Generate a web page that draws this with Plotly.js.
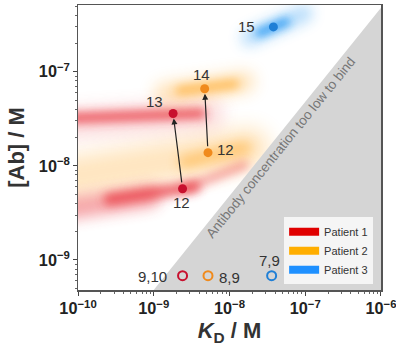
<!DOCTYPE html>
<html><head><meta charset="utf-8">
<script src="https://cdn.plot.ly/plotly-3.0.1.min.js"></script>
<style>html,body{margin:0;padding:0;background:#fff;}#chart{width:396px;height:346px;}</style>
</head><body><div id="chart"></div>
<script>
// ---------- data ----------
const filledKD = [3.8e-8, 4.7e-9, 5.2e-9, 1.8e-9, 2.4e-9];
const filledAb = [3.0e-7, 6.6e-8, 1.38e-8, 3.6e-8, 5.7e-9];
const filledLabels = ['15', '14', '12', '13', '12'];
const filledPatient = [3, 2, 2, 1, 1];

const openKD = [2.4e-9, 5.2e-9, 3.6e-8];
const openAb = [6.8e-10, 6.8e-10, 6.8e-10];
const openLabels = ['9,10', '8,9', '7,9'];
const openPatient = [1, 2, 3];

// arrows: [from index, to index] in filled points
const arrowPairs = [[4, 3], [2, 1]];

const patients = ['Patient 1', 'Patient 2', 'Patient 3'];

// "too low to bind" boundary region
const boundKD = [1e-10, 1e-5, 1e-5];
const boundAb = [4.8e-11, 4.8e-6, 4.8e-11];
const boundText = 'Antibody concentration too low to bind';

// density clouds (KD start, KD end, Ab start, Ab end)
const cloudKD0 = [5.8e-11, 2.57e-9, 5.8e-11, 2.6e-10, 2.6e-9, 5.8e-11, 5.8e-11, 1.38e-9, 2.2e-9, 1.82e-8, 2.5e-8];
const cloudKD1 = [1.82e-8, 1.58e-8, 8.9e-10, 3.46e-9, 1.58e-8, 5.5e-9, 4.2e-9, 1.58e-8, 1.17e-8, 9.8e-8, 5.6e-8];
const cloudAb0 = [7.4e-9, 1.1e-8, 3.4e-9, 4.4e-9, 5.75e-9, 2.8e-8, 3.2e-8, 5.9e-8, 6.3e-8, 2.3e-7, 2.6e-7];
const cloudAb1 = [1.55e-8, 1.55e-8, 4.7e-9, 6.0e-9, 1.02e-8, 3.55e-8, 3.6e-8, 7.8e-8, 7.4e-8, 4.2e-7, 3.4e-7];
const cloudPatient = [2, 2, 1, 1, 1, 1, 1, 2, 2, 3, 3];

// ---------- styles ----------
const pointColors = {1: '#c8102e', 2: '#f08a1c', 3: '#1f7fd6'};
const legendColors = ['#e00000', '#ffae00', '#1e90ff'];
const cloudColors = {1: '#e8303a', 2: '#ffab2e', 3: '#2196f3'};
const cloudWidth = [40, 14, 22, 12, 8, 26, 10, 20, 9, 16, 8];
const cloudOpacity = [0.3, 0.5, 0.42, 0.7, 0.45, 0.2, 0.75, 0.35, 0.7, 0.35, 0.85];
const cloudBlur = [10, 6, 7, 5, 5, 9, 5, 8, 5, 7, 4];
const filledShift = [[-27, 0], [-3, 14], [18, 3], [-19, 12], [-1, -14]];
const openShift = [[-30, -1], [22, -2], [-2, 15]];

const lg = Math.log10;
const FONT = 'Liberation Sans, Arial, sans-serif';

const traces = [
  {x: boundKD, y: boundAb, mode: 'lines', fill: 'toself', fillcolor: '#d5d5d5',
   line: {width: 0, color: 'rgba(0,0,0,0)'}, showlegend: false, hoverinfo: 'skip'},
  {x: filledKD, y: filledAb, mode: 'markers', showlegend: false,
   marker: {size: 9, color: filledPatient.map(p => pointColors[p])}},
  {x: openKD, y: openAb, mode: 'markers', showlegend: false,
   marker: {size: 9, symbol: 'circle-open', color: openPatient.map(p => pointColors[p]), line: {width: 2}}}
];
patients.forEach((p, i) => traces.push({
  x: [null], y: [null], mode: 'lines', name: p, line: {color: legendColors[i], width: 8}
}));

const shapes = cloudKD0.map((v, i) => ({
  type: 'line', xref: 'x', yref: 'y', layer: 'below',
  x0: cloudKD0[i], x1: cloudKD1[i], y0: cloudAb0[i], y1: cloudAb1[i],
  line: {color: cloudColors[cloudPatient[i]], width: cloudWidth[i]},
  opacity: cloudOpacity[i]
}));

const annotations = [];
filledKD.forEach((v, i) => annotations.push({
  x: lg(filledKD[i]), y: lg(filledAb[i]), xref: 'x', yref: 'y', text: filledLabels[i],
  showarrow: false, xshift: filledShift[i][0], yshift: filledShift[i][1],
  font: {size: 15, color: '#333', family: FONT}
}));
openKD.forEach((v, i) => annotations.push({
  x: lg(openKD[i]), y: lg(openAb[i]), xref: 'x', yref: 'y', text: openLabels[i],
  showarrow: false, xshift: openShift[i][0], yshift: openShift[i][1],
  font: {size: 15, color: '#333', family: FONT}
}));
arrowPairs.forEach(([a, b]) => annotations.push({
  x: lg(filledKD[b]), y: lg(filledAb[b]), ax: lg(filledKD[a]), ay: lg(filledAb[a]),
  xref: 'x', yref: 'y', axref: 'x', ayref: 'y', text: '', showarrow: true,
  arrowhead: 2, arrowsize: 1, arrowwidth: 1.2, arrowcolor: '#222', standoff: 5, startstandoff: 5
}));
annotations.push({
  x: -7.32, y: -7.81, xref: 'x', yref: 'y', text: boundText, showarrow: false,
  textangle: -51, font: {size: 13.5, color: '#777', family: FONT}
});

const axisCommon = {
  type: 'log', dtick: 1, exponentformat: 'power', showgrid: false, zeroline: false,
  showline: true, linecolor: '#555', linewidth: 1.5, mirror: true,
  ticks: 'outside', ticklen: 4, tickwidth: 1, tickcolor: '#444',
  ticklabeloverflow: 'allow',
  minor: {ticks: 'outside', ticklen: 2, tickcolor: '#666', showgrid: false},
  tickfont: {size: 13, weight: 'bold', color: '#222', family: FONT}
};

const layout = {
  width: 396, height: 346,
  margin: {l: 78, r: 15, t: 5, b: 56},
  paper_bgcolor: '#fff', plot_bgcolor: '#fff',
  font: {family: FONT},
  xaxis: Object.assign({}, axisCommon, {range: [-10.0005, -5.9995],
    title: {text: '<b><i>K</i><sub>D</sub> / M</b>', font: {size: 22, color: '#333'}, standoff: 6}}),
  yaxis: Object.assign({}, axisCommon, {range: [-9.32, -6.29],
    title: {text: '<b>[Ab] / M</b>', font: {size: 22, color: '#333'}, standoff: 8}}),
  legend: {x: 0.974, xanchor: 'right', y: 0.02, yanchor: 'bottom',
    bgcolor: 'rgba(247,247,247,0.95)', borderwidth: 0,
    font: {size: 11, color: '#333', family: FONT}},
  shapes: shapes,
  annotations: annotations
};

Plotly.newPlot('chart', traces, layout, {staticPlot: true, displayModeBar: false}).then(gd => {
  const ns = 'http://www.w3.org/2000/svg';
  const svg = gd.querySelector('svg.main-svg');
  const defs = document.createElementNS(ns, 'defs');
  Array.from(new Set(cloudBlur)).forEach(s => {
    const f = document.createElementNS(ns, 'filter');
    f.setAttribute('id', 'cblur' + s);
    f.setAttribute('filterUnits', 'userSpaceOnUse');
    f.setAttribute('x', '-500'); f.setAttribute('y', '-500');
    f.setAttribute('width', '2000'); f.setAttribute('height', '2000');
    const b = document.createElementNS(ns, 'feGaussianBlur');
    b.setAttribute('stdDeviation', s);
    f.appendChild(b); defs.appendChild(f);
  });
  svg.insertBefore(defs, svg.firstChild);
  gd.querySelectorAll('.shapelayer path[data-index]').forEach(p => {
    const i = +p.getAttribute('data-index');
    if (cloudBlur[i]) {
      p.setAttribute('filter', 'url(#cblur' + cloudBlur[i] + ')');
      p.style.strokeLinecap = 'round';
    }
  });
});
</script></body></html>
